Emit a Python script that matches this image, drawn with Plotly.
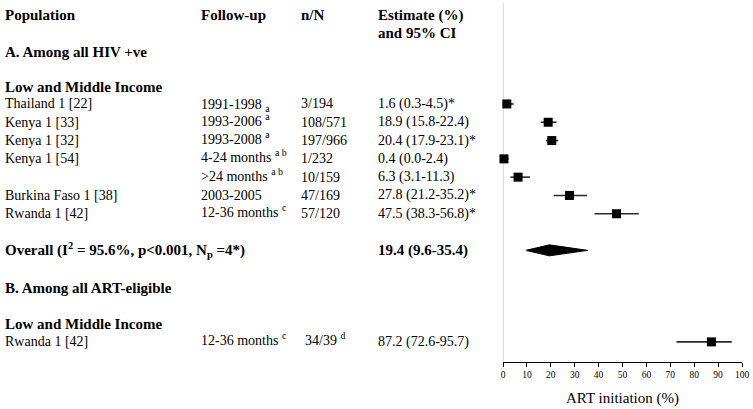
import plotly.graph_objects as go

# ---- data ----
studies = ["Thailand 1 [22]", "Kenya 1 [33]", "Kenya 1 [32]", "Kenya 1 [54]", "",
           "Burkina Faso 1 [38]", "Rwanda 1 [42]", "Rwanda 1 [42]"]
followup = ["1991-1998 <sub>a</sub>", "1993-2006 <sup>a</sup>", "1993-2008 <sup>a</sup>",
            "4-24 months <sup>a b</sup>", "&gt;24 months <sup>a b</sup>", "2003-2005",
            "12-36 months <sup>c</sup>", "12-36 months <sup>c</sup>"]
n_over_N = ["3/194", "108/571", "197/966", "1/232", "10/159", "47/169", "57/120", "34/39 <sup>d</sup>"]
est = [1.6, 18.9, 20.4, 0.4, 6.3, 27.8, 47.5, 87.2]
lo = [0.3, 15.8, 17.9, 0.0, 3.1, 21.2, 38.3, 72.6]
hi = [4.5, 22.4, 23.1, 2.4, 11.3, 35.2, 56.8, 95.7]
star = ["*", "", "*", "", "", "*", "*", ""]
rows = [0, 1, 2, 3, 4, 5, 6, 13]

overall_est, overall_lo, overall_hi = 19.4, 9.6, 35.4
overall_row = 8
overall_label = "Overall (I<sup>2</sup> = 95.6%, p&lt;0.001, N<sub>p</sub> =4*)"

x_ticks = [0, 10, 20, 30, 40, 50, 60, 70, 80, 90, 100]
x_title = "ART initiation (%)"

# ---- layout constants ----
W, H = 753, 409
L, R, T, B = 503, 11, 0, 47
FONT = "Liberation Serif"
col_px = [3, 199, 299, 376]

fig = go.Figure()

# CI lines + squares
fig.add_trace(go.Scatter(
    x=est, y=rows, mode="markers",
    marker=dict(symbol="square", size=9, color="black"),
    error_x=dict(type="data", symmetric=False,
                 array=[h - e for h, e in zip(hi, est)],
                 arrayminus=[e - l for e, l in zip(est, lo)],
                 width=0, thickness=1.6, color="#2a2a2a"),
    cliponaxis=False, showlegend=False, hoverinfo="skip"))

# overall diamond
dh = 0.3
fig.add_trace(go.Scatter(
    x=[overall_lo, overall_est, overall_hi, overall_est, overall_lo],
    y=[overall_row, overall_row - dh, overall_row, overall_row + dh, overall_row],
    mode="lines", fill="toself", fillcolor="black", line=dict(color="black", width=1),
    showlegend=False, hoverinfo="skip"))

# vertical reference line at 0
fig.add_shape(type="line", xref="x", yref="paper", x0=0, x1=0, y0=0, y1=0.992,
              line=dict(color="#cfcfcf", width=1.5), layer="below")

anns = []
def txt(text, px, row, bold=False, size=None):
    ys = 0
    if "<sup>" in text and "<sub>" not in text:
        ys = 2.5
    elif "<sub>" in text and "<sup>" not in text:
        ys = -2
    anns.append(dict(text=("<b>%s</b>" % text) if bold else text,
                     xref="paper", x=0, xshift=px - L,
                     xanchor="left", yref="y", y=row, yanchor="middle", yshift=ys,
                     showarrow=False,
                     font=dict(family=FONT, size=size or (15 if bold else 14), color="black")))

# headers
txt("Population", col_px[0], -4.85, bold=True)
txt("Follow-up", col_px[1], -4.85, bold=True)
txt("n/N", col_px[2], -4.85, bold=True)
txt("Estimate (%)", col_px[3], -4.85, bold=True)
txt("and 95% CI", col_px[3], -3.88, bold=True)
txt("A. Among all HIV +ve", col_px[0], -2.86, bold=True)
txt("Low and Middle Income", col_px[0], -0.93, bold=True)
txt("B. Among all ART-eligible", col_px[0], 10.05, bold=True)
txt("Low and Middle Income", col_px[0], 12.05, bold=True)

for i, r in enumerate(rows):
    if studies[i]:
        txt(studies[i], col_px[0], r)
    txt(followup[i], col_px[1], r)
    txt(n_over_N[i], 303 if i == len(rows) - 1 else col_px[2], r)
    txt("%.1f (%.1f-%.1f)%s" % (est[i], lo[i], hi[i], star[i]), col_px[3], r)

txt(overall_label, col_px[0], overall_row, bold=True)
txt("%.1f (%.1f-%.1f)" % (overall_est, overall_lo, overall_hi), col_px[3], overall_row, bold=True)

fig.update_layout(
    width=W, height=H, margin=dict(l=L, r=R, t=T, b=B),
    paper_bgcolor="white", plot_bgcolor="white",
    annotations=anns,
    xaxis=dict(range=[0, 100], tickvals=x_ticks, showgrid=False, zeroline=False,
               showline=True, linecolor="black", linewidth=1,
               ticks="outside", ticklen=4, tickcolor="black", tickwidth=1,
               tickfont=dict(family=FONT, size=9.5, color="black"),
               title=dict(text=x_title, font=dict(family=FONT, size=15, color="black"), standoff=13),
               fixedrange=True),
    yaxis=dict(range=[14.1, -5.68], visible=False, showgrid=False, zeroline=False, fixedrange=True),
    showlegend=False,
)

fig.write_html("out.html", config={"displayModeBar": False},
               post_script="document.body.style.margin='0px';")
